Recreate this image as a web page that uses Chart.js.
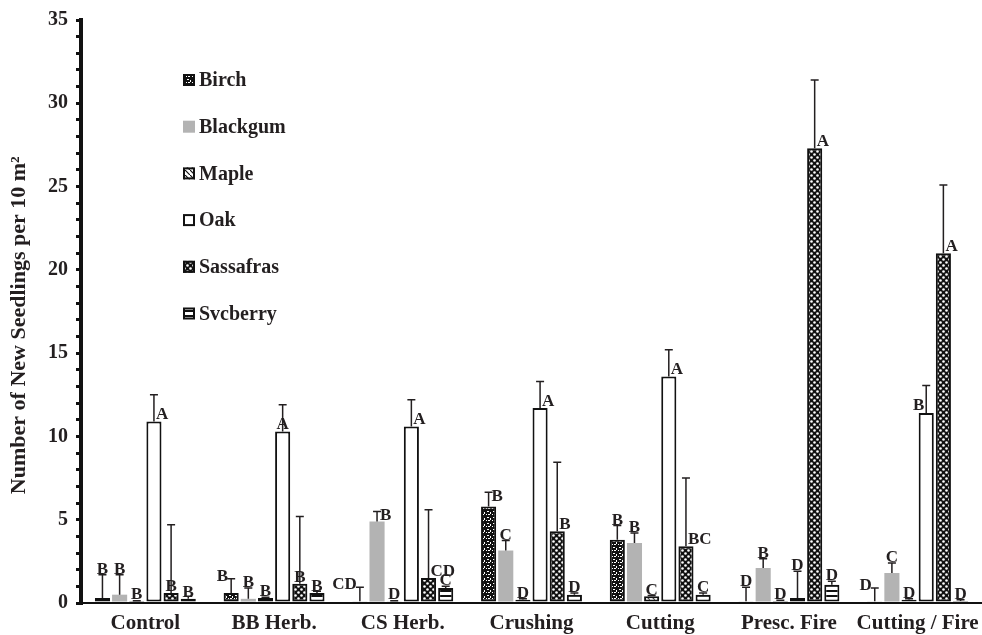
<!DOCTYPE html>
<html>
<head>
<meta charset="utf-8">
<script src="https://cdn.jsdelivr.net/npm/chart.js@4.4.1/dist/chart.umd.min.js"></script>
<style>
  html, body { margin: 0; padding: 0; background: #fff; }
  #wrap { width: 982px; height: 635px; }
</style>
</head>
<body>
<div id="wrap"><canvas id="chart"></canvas></div>
<script>
// ========== data ==========
const treatments = ['Control', 'BB Herb.', 'CS Herb.', 'Crushing', 'Cutting', 'Presc. Fire', 'Cutting / Fire'];
const species = ['Birch', 'Blackgum', 'Maple', 'Oak', 'Sassafras', 'Svcberry'];

// mean seedlings per 10 m2
const birch     = [0.3, 0.6, 0.1, 5.8, 3.8, 0.1, 0.1];
const blackgum  = [0.5, 0.25, 4.9, 3.15, 3.6, 2.1, 1.8];
const maple     = [0.12, 0.3, 0.1, 0.2, 0.4, 0.12, 0.2];
const oak       = [10.9, 10.3, 10.6, 11.7, 13.6, 0.3, 11.4];
const sassafras = [0.6, 1.15, 1.5, 4.3, 3.4, 27.3, 21.0];
const svcberry  = [0.26, 0.6, 0.9, 0.5, 0.5, 1.1, 0.12];

// top of error bar
const birchErr     = [1.7, 1.45, 0.95, 6.65, 4.65, 0.95, 0.9];
const blackgumErr  = [1.7, 0.9, 5.5, 3.75, 4.2, 2.65, 2.4];
const mapleErr     = [0.14, 0.34, 0.14, 0.25, 0.45, 0.16, 0.26];
const oakErr       = [12.5, 11.9, 12.2, 13.3, 15.2, 1.9, 13.05];
const sassafrasErr = [4.7, 5.2, 5.6, 8.45, 7.5, 31.4, 25.1];
const svcberryErr  = [0.4, 0.7, 1.0, 0.6, 0.6, 1.3, 0.2];

// significance letters
const birchSig     = ['B', 'B', 'CD', 'B', 'B', 'D', 'D'];
const blackgumSig  = ['B', 'B', 'B', 'C', 'B', 'B', 'C'];
const mapleSig     = ['B', 'B', 'D', 'D', 'C', 'D', 'D'];
const oakSig       = ['A', 'A', 'A', 'A', 'A', 'D', 'B'];
const sassafrasSig = ['B', 'B', 'CD', 'B', 'BC', 'A', 'A'];
const svcberrySig  = ['B', 'B', 'C', 'D', 'C', 'D', 'D'];

const yMax = 35;

// where each letter sits (c: above cap, b: above bar, r/l: beside bar top, cl/cr: beside cap)
const birchPlace     = ['c', 'cl', 'cl', 'cr', 'c', 'c', 'cl'];
const blackgumPlace  = ['c', 'c', 'cr', 'c', 'c', 'c', 'c'];
const maplePlace     = ['b', 'b', 'b', 'b', 'c', 'c', 'b'];
const oakPlace       = ['r', 'b', 'r', 'r', 'r', 'c', 'l'];
const sassafrasPlace = ['b', 'b', 'r', 'r', 'r', 'r', 'r'];
const svcberryPlace  = ['b', 'b', 'c', 'c', 'c', 'c', 'c'];

// ========== patterns ==========
const INK = '#231f20';
const FONT = '"Liberation Serif", "Times New Roman", serif';

function makePattern(w, h, draw) {
  const c = document.createElement('canvas');
  c.width = w; c.height = h;
  const g = c.getContext('2d');
  draw(g);
  return g.createPattern(c, 'repeat');
}

const birchFill = makePattern(6, 6, g => {
  g.fillStyle = '#111'; g.fillRect(0, 0, 6, 6);
  g.fillStyle = '#fff';
  g.fillRect(1, 1, 2, 1); g.fillRect(4, 2, 1, 2); g.fillRect(0, 4, 1, 1); g.fillRect(2, 4, 2, 1);
});
const sassafrasFill = makePattern(6, 6, g => {
  g.fillStyle = '#111'; g.fillRect(0, 0, 6, 6);
  g.fillStyle = '#fff';
  g.beginPath(); g.arc(1.5, 1.5, 1.3, 0, Math.PI * 2); g.fill();
  g.beginPath(); g.arc(4.5, 4.5, 1.3, 0, Math.PI * 2); g.fill();
});
const mapleFill = makePattern(5, 5, g => {
  g.fillStyle = '#fff'; g.fillRect(0, 0, 5, 5);
  g.strokeStyle = '#111'; g.lineWidth = 1.2;
  g.beginPath(); g.moveTo(0, 0); g.lineTo(5, 5); g.stroke();
});
const svcberryFill = makePattern(4, 5, g => {
  g.fillStyle = '#fff'; g.fillRect(0, 0, 4, 5);
  g.fillStyle = '#111'; g.fillRect(0, 0, 4, 2);
});

function series(i, data, err, sig, place, fill, border, bw) {
  return {
    label: species[i], data, errTop: err, sig, place,
    backgroundColor: fill, borderColor: border, borderWidth: bw,
    borderSkipped: false, barPercentage: 0.88, categoryPercentage: 0.8,
  };
}

// ========== plugins ==========
const errorBars = {
  id: 'errorBars',
  afterDatasetsDraw(chart) {
    const { ctx } = chart;
    const y = chart.scales.y;
    chart.data.datasets.forEach((ds, di) => {
      chart.getDatasetMeta(di).data.forEach((bar, i) => {
        const x = bar.x;
        const yBar = y.getPixelForValue(ds.data[i]);
        const yCap = y.getPixelForValue(ds.errTop[i]);
        ctx.save();
        ctx.strokeStyle = INK;
        ctx.lineWidth = 1.5;
        ctx.beginPath();
        ctx.moveTo(x, yBar); ctx.lineTo(x, yCap);
        ctx.moveTo(x - 4, yCap); ctx.lineTo(x + 4, yCap);
        ctx.stroke();

        ctx.fillStyle = INK;
        ctx.font = 'bold 17px ' + FONT;
        ctx.textBaseline = 'alphabetic';
        let tx = x, ty = yCap - 1, align = 'center';
        switch (ds.place[i]) {
          case 'b': ty = yBar - 2; break;
          case 'r': tx = x + 2; ty = yBar - 2; align = 'left'; break;
          case 'l': tx = x - 2; ty = yBar - 3; align = 'right'; break;
          case 'cl': tx = x - 3; ty = yCap + 2; align = 'right'; break;
          case 'cr': tx = x + 3; ty = yCap + 9; align = 'left'; break;
        }
        ctx.textAlign = align;
        ctx.fillText(ds.sig[i], tx, ty);
        ctx.restore();
      });
    });
  }
};

const insideLegend = {
  id: 'insideLegend',
  afterDraw(chart) {
    const { ctx } = chart;
    chart.data.datasets.forEach((ds, i) => {
      const yc = 80 + 46.7 * i;
      ctx.save();
      ctx.fillStyle = ds.backgroundColor;
      ctx.fillRect(183, yc - 6, 12, 12);
      if (ds.borderWidth > 0) {
        ctx.strokeStyle = '#111';
        ctx.lineWidth = 2;
        ctx.strokeRect(184, yc - 5, 10, 10);
      }
      ctx.fillStyle = INK;
      ctx.font = 'bold 20px ' + FONT;
      ctx.textAlign = 'left';
      ctx.textBaseline = 'middle';
      ctx.fillText(ds.label, 199, yc + 1);
      ctx.restore();
    });
  }
};

// ========== chart ==========
new Chart(document.getElementById('chart'), {
  type: 'bar',
  data: {
    labels: treatments,
    datasets: [
      series(0, birch, birchErr, birchSig, birchPlace, birchFill, '#111', 2),
      series(1, blackgum, blackgumErr, blackgumSig, blackgumPlace, '#b3b3b3', '#b3b3b3', 0),
      series(2, maple, mapleErr, mapleSig, maplePlace, mapleFill, '#111', 2),
      series(3, oak, oakErr, oakSig, oakPlace, '#ffffff', '#111', 2),
      series(4, sassafras, sassafrasErr, sassafrasSig, sassafrasPlace, sassafrasFill, '#111', 2),
      series(5, svcberry, svcberryErr, svcberrySig, svcberryPlace, svcberryFill, '#111', 2),
    ],
  },
  options: {
    responsive: true,
    maintainAspectRatio: false,
    animation: false,
    layout: { padding: { top: 20, right: 0, left: 0, bottom: 0 } },
    plugins: { legend: { display: false }, tooltip: { enabled: false } },
    scales: {
      x: {
        grid: { display: false },
        border: { display: true, color: '#111', width: 2 },
        ticks: { color: INK, font: { family: FONT, size: 21, weight: 'bold' }, padding: 0, maxRotation: 0, autoSkip: false },
        afterFit(s) { s.height = 32; s.paddingLeft = 0; s.paddingRight = 0; },
      },
      y: {
        min: 0,
        max: yMax,
        ticks: {
          stepSize: 1,
          autoSkip: false,
          color: INK,
          font: { family: FONT, size: 20, weight: 'bold' },
          padding: 8,
          callback: v => (v % 5 === 0 ? v : ''),
        },
        grid: { drawOnChartArea: false, drawTicks: true, tickLength: 5, lineWidth: 3, color: '#111' },
        border: { display: true, color: '#111', width: 4 },
        title: {
          display: true,
          text: 'Number of New Seedlings per 10 m²     ',
          color: INK,
          font: { family: FONT, size: 22, weight: 'bold' },
          padding: { top: 6, bottom: 0 },
        },
        afterFit(s) { s.width = 81; s.paddingTop = 0; s.paddingBottom = 0; },
      },
    },
  },
  plugins: [errorBars, insideLegend],
});
</script>
</body>
</html>
